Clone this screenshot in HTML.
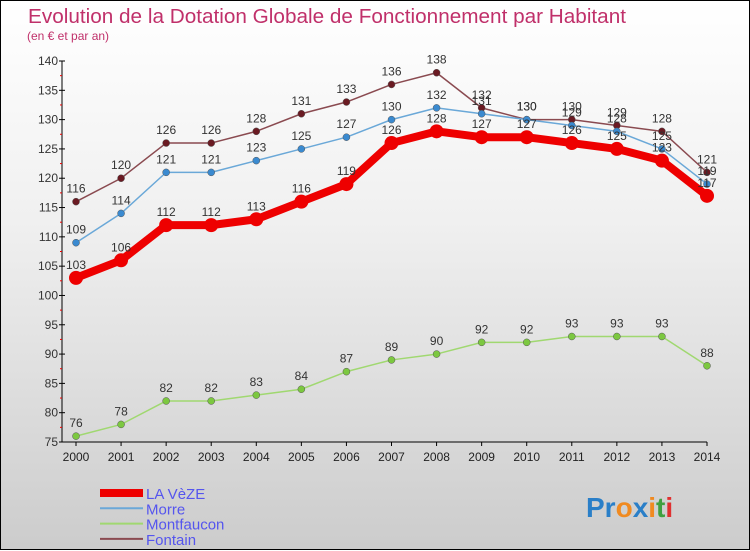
<!DOCTYPE html>
<html><head><meta charset="utf-8"><style>
html,body{margin:0;padding:0}
body{width:750px;height:550px;overflow:hidden;font-family:"Liberation Sans",sans-serif}
#wrap{position:relative;width:748px;height:548px;border:1px solid #000;background:linear-gradient(#ffffff,#f0f0f0 40%,#cccccc)}
svg{position:absolute;left:0;top:0}
</style></head><body>
<div id="wrap">
<svg id="chart" width="750" height="550">
<text x="27" y="22" font-size="20" fill="#c0306a" textLength="598" lengthAdjust="spacingAndGlyphs">Evolution de la Dotation Globale de Fonctionnement par Habitant</text>
<text x="26" y="39" font-size="12" fill="#c0306a">(en € et par an)</text>
<g id="axes"></g>
<g id="series"></g>
<g id="legend"></g>
<text x="585" y="516" font-size="28" font-weight="bold"><tspan fill="#2a7fc8">Pr</tspan><tspan fill="#f08a20">o</tspan><tspan fill="#2a7fc8">x</tspan><tspan fill="#f08a20">i</tspan><tspan fill="#40a040">t</tspan><tspan fill="#e03030">i</tspan></text>
</svg>
</div>
<script>
const years = [2000,2001,2002,2003,2004,2005,2006,2007,2008,2009,2010,2011,2012,2013,2014];
const laVeze = [103,106,112,112,113,116,119,126,128,127,127,126,125,123,117];
const morre = [109,114,121,121,123,125,127,130,132,131,130,129,128,125,119];
const montfaucon = [76,78,82,82,83,84,87,89,90,92,92,93,93,93,88];
const fontain = [116,120,126,126,128,131,133,136,138,132,130,130,129,128,121];
const yTicks = [75,80,85,90,95,100,105,110,115,120,125,130,135,140];

const NS = "http://www.w3.org/2000/svg";
function xS(i){ return 75 + (706-75) * i / (years.length-1); }
function yS(v){ return 441 - (v-75) * (441-60) / (140-75); }
function mk(tag, attrs, parent){ const e=document.createElementNS(NS,tag); for(const k in attrs) e.setAttribute(k,attrs[k]); parent.appendChild(e); return e; }

const axes = document.getElementById('axes');
const ax = mk('line',{x1:61,y1:yS(140),x2:61,y2:441,stroke:'#000','stroke-width':1},axes);


const bx = mk('line',{x1:61,y1:441,x2:706,y2:441,stroke:'#000','stroke-width':1},axes);


yTicks.forEach(v=>{
  const y=yS(v);
  mk('line',{x1:58,y1:y,x2:64,y2:y,stroke:'#000'},axes);
  if(v<140){ mk('line',{x1:59,y1:yS(v+2.5),x2:61,y2:yS(v+2.5),stroke:'#e00'},axes); }
  const t=mk('text',{x:57,y:y+4,'font-size':12,fill:'#333','text-anchor':'end'},axes);
  t.textContent=v;
  
  
});
years.forEach((yr,i)=>{
  const x=xS(i);
  mk('line',{x1:x,y1:441,x2:x,y2:445,stroke:'#000'},axes);
  const t=mk('text',{x:x,y:460,'font-size':12,fill:'#222','text-anchor':'middle'},axes);
  t.textContent=yr;
  
  
});

const sg = document.getElementById('series');
const defs = [
  {name:'montfaucon',data:montfaucon,line:'#a0d870',pt:'#7cc840',w:1.5,r:3.5},
  {name:'fontain',data:fontain,line:'#8a4a50',pt:'#6a1a22',w:1.5,r:3.5},
  {name:'morre',data:morre,line:'#6aa8d8',pt:'#3a8ad0',w:1.5,r:3.5},
  {name:'la-veze',data:laVeze,line:'#ee0000',pt:'#ee0000',w:8,r:7}
];
defs.forEach(s=>{
  const g=mk('g',{},sg);
  
  
  const pts=s.data.map((v,i)=>xS(i)+','+yS(v)).join(' ');
  const pl=mk('polyline',{points:pts,fill:'none',stroke:s.line,'stroke-width':s.w,'stroke-linejoin':'round'},g);
  
  
  s.data.forEach((v,i)=>{
    const c=mk('circle',{cx:xS(i),cy:yS(v),r:s.r,fill:s.pt,stroke:s.name==='la-veze'?'none':'#555','stroke-width':0.5},g);
    
    
    const t=mk('text',{x:xS(i),y:yS(v)-9,'font-size':12,fill:'#333','text-anchor':'middle'},g);
    t.textContent=v;
    
    
  });
});

const lg=document.getElementById('legend');
const leg=[['LA VèZE','#ee0000',8],['Morre','#6aa8d8',2],['Montfaucon','#a0d870',2],['Fontain','#8a4a50',2]];
leg.forEach((l,i)=>{
  const y=492+i*15.3;
  const g=mk('g',{},lg);
  
  
  mk('line',{x1:99,y1:y,x2:142,y2:y,stroke:l[1],'stroke-width':l[2]},g);
  const t=mk('text',{x:145,y:y+6,'font-size':15,fill:'#5555ee'},g);
  t.textContent=l[0];
});
</script>
</body></html>
